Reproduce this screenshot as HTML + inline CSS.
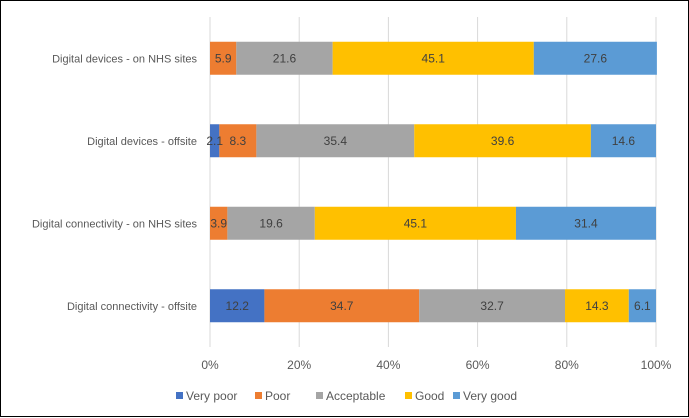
<!DOCTYPE html>
<html><head><meta charset="utf-8"><style>
html,body{margin:0;padding:0;background:#fff}
svg{display:block;font-family:"Liberation Sans",Arial,sans-serif}
</style></head><body>
<svg id="chart" width="689" height="418" viewBox="0 0 689 418" xmlns="http://www.w3.org/2000/svg">
<rect x="0.5" y="0.5" width="688" height="416" fill="#fff" stroke="#000" stroke-width="1"/>
<g id="grid"></g><g id="bars"></g><g id="labels"></g><g id="legend"></g>
</svg>
<script>
const categories = ["Digital devices - on NHS sites","Digital devices - offsite","Digital connectivity - on NHS sites","Digital connectivity - offsite"];
const seriesNames = ["Very poor","Poor","Acceptable","Good","Very good"];
const veryPoor = [0, 2.1, 0, 12.2];
const poor = [5.9, 8.3, 3.9, 34.7];
const acceptable = [21.6, 35.4, 19.6, 32.7];
const good = [45.1, 39.6, 45.1, 14.3];
const veryGood = [27.6, 14.6, 31.4, 6.1];
const ticks = [0,20,40,60,80,100];
const tickLabels = ["0%","20%","40%","60%","80%","100%"];

const series = [veryPoor, poor, acceptable, good, veryGood];
const colors = ["#4472C4","#ED7D31","#A5A5A5","#FFC000","#5B9BD5"];
const NS = "http://www.w3.org/2000/svg";
const x0 = 210, x1 = 656, yTop = 17, yBot = 347;
const xs = v => x0 + (x1 - x0) * v / 100;
const band = (yBot - yTop) / categories.length;
const ys = i => yTop + band * i;
function mk(tag, attrs, parent, text){const e=document.createElementNS(NS,tag);for(const k in attrs)e.setAttribute(k,attrs[k]);if(text!==undefined)e.textContent=text;parent.appendChild(e);return e;}
const grid=document.getElementById('grid'), bars=document.getElementById('bars'), labels=document.getElementById('labels'), legend=document.getElementById('legend');
ticks.forEach((t,i)=>{
  const l=mk('line',{x1:xs(t),x2:xs(t),y1:yTop,y2:yBot,stroke:'#d9d9d9','stroke-width':1},grid);
  
  
  const tx=mk('text',{x:xs(t),y:369,'text-anchor':'middle','font-size':12,fill:'#595959'},labels,tickLabels[i]);
  
  
});
categories.forEach((c,i)=>{
  const bh=33, by=ys(i)+(band-bh)/2;
  const ct=mk('text',{x:197,y:by+bh/2+4,'text-anchor':'end','font-size':11,fill:'#595959'},labels,c);
  
  
  let acc=0;
  series.forEach((s,j)=>{
    const v=s[i]; if(!v){return;}
    const r=mk('rect',{x:xs(acc),y:by,width:xs(acc+v)-xs(acc),height:bh,fill:colors[j]},bars);
    
    
    const t=mk('text',{x:(xs(acc)+xs(acc+v))/2,y:by+bh/2+4,'text-anchor':'middle','font-size':12,fill:'#404040'},labels,v.toFixed(1));
    
    
    acc+=v;
  });
});
const legX=[176,255,316,405,453];
seriesNames.forEach((n,j)=>{
  const g=mk('g',{},legend);
  
  
  mk('rect',{x:legX[j],y:392,width:7,height:7,fill:colors[j]},g);
  mk('text',{x:legX[j]+10,y:400,'font-size':12,fill:'#595959'},g,n);
});
</script>
</body></html>
